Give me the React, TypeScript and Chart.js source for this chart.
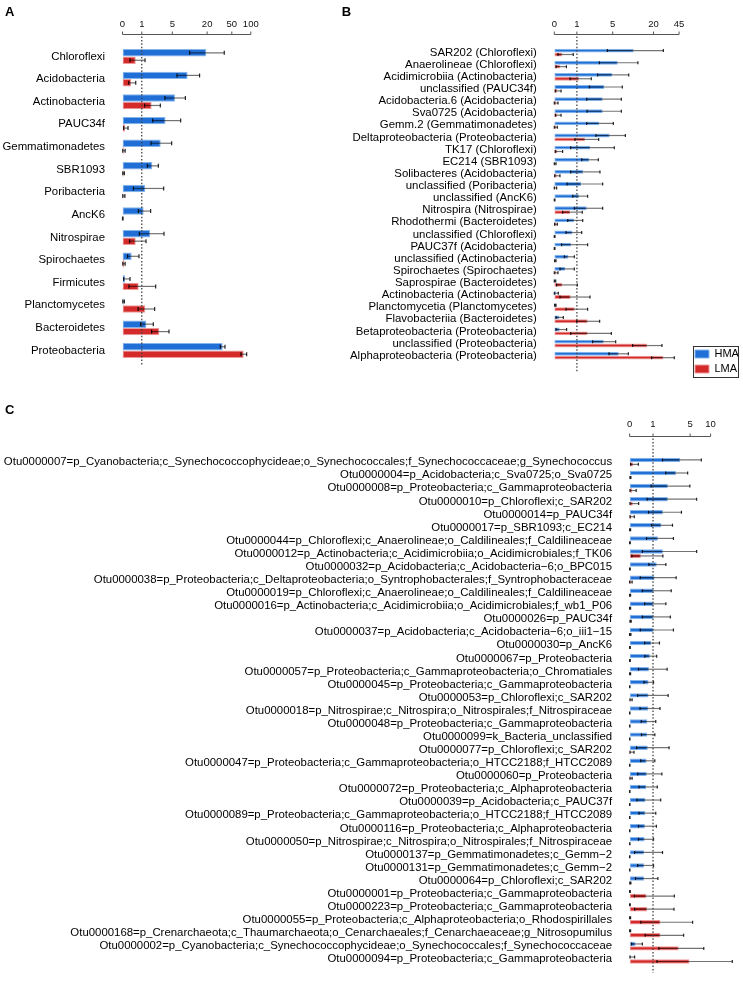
import React, { useEffect, useRef } from 'react';
import { Chart, LinearScale, registerables } from 'chart.js';

class Log1pScale extends LinearScale {
  static id = 'log1p';
  getPixelForValue(value: any) {
    const lo = Math.log1p(this.min), hi = Math.log1p(this.max);
    return this.getPixelForDecimal((Math.log1p(value) - lo) / (hi - lo));
  }
  getValueForPixel(pixel: number) {
    const lo = Math.log1p(this.min), hi = Math.log1p(this.max);
    return Math.expm1(lo + this.getDecimalForPixel(pixel) * (hi - lo));
  }
}
Chart.register(...registerables, Log1pScale as any);

const FONT = "'Liberation Sans', Arial, Helvetica, sans-serif";

// ---------- Panel A (phylum) ----------
const catsA = ['Chloroflexi', 'Acidobacteria', 'Actinobacteria', 'PAUC34f', 'Gemmatimonadetes', 'SBR1093', 'Poribacteria', 'AncK6', 'Nitrospirae', 'Spirochaetes', 'Firmicutes', 'Planctomycetes', 'Bacteroidetes', 'Proteobacteria'];
const ticksA = [0, 1, 5, 20, 50, 100];
const hmaA = [19.4, 9.4, 5.6, 3.7, 2.95, 1.92, 1.27, 1.14, 1.69, 0.39, 0.094, 0.04, 1.36, 35.7];
const hmaALow = [10.2, 6.1, 3.6, 1.96, 1.79, 1.44, 0.48, 0.77, 0.83, 0.2, 0.043, 0.01, 0.92, 32.8];
const hmaAHigh = [37.9, 15.0, 8.6, 7.1, 4.86, 2.63, 3.4, 1.75, 3.45, 0.81, 0.31, 0.07, 2.03, 38.9];
const lmaA = [0.61, 0.37, 1.85, 0.094, 0.043, 0.04, 0.03, 0.01, 0.61, 0.068, 0.79, 1.27, 2.76, 77.2];
const lmaALow = [0.31, 0.25, 1.22, 0.043, 0.01, 0.01, 0.01, 0, 0.29, 0.01, 0.26, 0.75, 1.85, 70];
const lmaAHigh = [1.25, 0.61, 2.9, 0.22, 0.1, 0.07, 0.09, 0.02, 1.33, 0.1, 2.3, 2.18, 4.33, 86];

// ---------- Panel B (class) ----------
const catsB = ['SAR202 (Chloroflexi)', 'Anaerolineae (Chloroflexi)', 'Acidimicrobiia (Actinobacteria)', 'unclassified (PAUC34f)', 'Acidobacteria.6 (Acidobacteria)', 'Sva0725 (Acidobacteria)', 'Gemm.2 (Gemmatimonadetes)', 'Deltaproteobacteria (Proteobacteria)', 'TK17 (Chloroflexi)', 'EC214 (SBR1093)', 'Solibacteres (Acidobacteria)', 'unclassified (Poribacteria)', 'unclassified (AncK6)', 'Nitrospira (Nitrospirae)', 'Rhodothermi (Bacteroidetes)', 'unclassified (Chloroflexi)', 'PAUC37f (Acidobacteria)', 'unclassified (Actinobacteria)', 'Spirochaetes (Spirochaetes)', 'Saprospirae (Bacteroidetes)', 'Actinobacteria (Actinobacteria)', 'Planctomycetia (Planctomycetes)', 'Flavobacteriia (Bacteroidetes)', 'Betaproteobacteria (Proteobacteria)', 'unclassified (Proteobacteria)', 'Alphaproteobacteria (Proteobacteria)'];
const ticksB = [0, 1, 5, 20, 45];
const hmaB = [10.4, 6.0, 4.93, 3.64, 3.41, 3.41, 2.94, 4.46, 1.99, 1.90, 1.41, 1.27, 1.13, 1.70, 0.83, 0.74, 0.67, 0.54, 0.40, 0.032, 0.054, 0.054, 0.167, 0.179, 3.55, 6.21];
const hmaBLow = [4.09, 2.98, 2.78, 1.93, 1.70, 1.73, 1.70, 2.59, 0.65, 1.32, 0.65, 0.48, 0.76, 0.85, 0.51, 0.43, 0.25, 0.36, 0.19, 0, 0, 0.01, 0.054, 0.054, 2.24, 4.35];
const hmaBHigh = [27.4, 12.0, 8.8, 7.06, 6.82, 6.82, 5.12, 7.84, 5.30, 2.86, 3.06, 3.41, 1.78, 3.41, 1.39, 1.32, 1.78, 0.85, 0.85, 0.045, 0.13, 0.054, 0.32, 0.46, 5.57, 8.69];
const lmaB = [0.28, 0.19, 1.13, 0.097, 0.054, 0.097, 0.054, 1.56, 0.097, 0.032, 0.075, 0.032, 0.01, 0.62, 0.065, 0.01, 0.01, 0.032, 0.054, 0.28, 0.65, 0.87, 1.78, 1.78, 16.2, 27.35];
const lmaBLow = [0.12, 0.054, 0.62, 0.03, 0, 0.032, 0, 0.887, 0.03, 0, 0.01, 0, 0, 0.29, 0.01, 0, 0, 0.01, 0, 0.075, 0.19, 0.43, 0.986, 0.652, 10.07, 18.8];
const lmaBHigh = [0.79, 0.45, 2.11, 0.23, 0.12, 0.23, 0.097, 2.9, 0.29, 0.054, 0.19, 0.075, 0.02, 1.36, 0.097, 0.02, 0.02, 0.054, 0.12, 1.03, 1.99, 1.78, 3.02, 4.75, 26.2, 38.7];

// ---------- Panel C (OTU) ----------
const catsC = [
  'Otu0000007=p_Cyanobacteria;c_Synechococcophycideae;o_Synechococcales;f_Synechococcaceae;g_Synechococcus',
  'Otu0000004=p_Acidobacteria;c_Sva0725;o_Sva0725',
  'Otu0000008=p_Proteobacteria;c_Gammaproteobacteria',
  'Otu0000010=p_Chloroflexi;c_SAR202',
  'Otu0000014=p_PAUC34f',
  'Otu0000017=p_SBR1093;c_EC214',
  'Otu0000044=p_Chloroflexi;c_Anaerolineae;o_Caldilineales;f_Caldilineaceae',
  'Otu0000012=p_Actinobacteria;c_Acidimicrobiia;o_Acidimicrobiales;f_TK06',
  'Otu0000032=p_Acidobacteria;c_Acidobacteria\u22126;o_BPC015',
  'Otu0000038=p_Proteobacteria;c_Deltaproteobacteria;o_Syntrophobacterales;f_Syntrophobacteraceae',
  'Otu0000019=p_Chloroflexi;c_Anaerolineae;o_Caldilineales;f_Caldilineaceae',
  'Otu0000016=p_Actinobacteria;c_Acidimicrobiia;o_Acidimicrobiales;f_wb1_P06',
  'Otu0000026=p_PAUC34f',
  'Otu0000037=p_Acidobacteria;c_Acidobacteria\u22126;o_iii1\u221215',
  'Otu0000030=p_AncK6',
  'Otu0000067=p_Proteobacteria',
  'Otu0000057=p_Proteobacteria;c_Gammaproteobacteria;o_Chromatiales',
  'Otu0000045=p_Proteobacteria;c_Gammaproteobacteria',
  'Otu0000053=p_Chloroflexi;c_SAR202',
  'Otu0000018=p_Nitrospirae;c_Nitrospira;o_Nitrospirales;f_Nitrospiraceae',
  'Otu0000048=p_Proteobacteria;c_Gammaproteobacteria',
  'Otu0000099=k_Bacteria_unclassified',
  'Otu0000077=p_Chloroflexi;c_SAR202',
  'Otu0000047=p_Proteobacteria;c_Gammaproteobacteria;o_HTCC2188;f_HTCC2089',
  'Otu0000060=p_Proteobacteria',
  'Otu0000072=p_Proteobacteria;c_Alphaproteobacteria',
  'Otu0000039=p_Acidobacteria;c_PAUC37f',
  'Otu0000089=p_Proteobacteria;c_Gammaproteobacteria;o_HTCC2188;f_HTCC2089',
  'Otu0000116=p_Proteobacteria;c_Alphaproteobacteria',
  'Otu0000050=p_Nitrospirae;c_Nitrospira;o_Nitrospirales;f_Nitrospiraceae',
  'Otu0000137=p_Gemmatimonadetes;c_Gemm\u22122',
  'Otu0000131=p_Gemmatimonadetes;c_Gemm\u22122',
  'Otu0000064=p_Chloroflexi;c_SAR202',
  'Otu0000001=p_Proteobacteria;c_Gammaproteobacteria',
  'Otu0000223=p_Proteobacteria;c_Gammaproteobacteria',
  'Otu0000055=p_Proteobacteria;c_Alphaproteobacteria;o_Rhodospirillales',
  'Otu0000168=p_Crenarchaeota;c_Thaumarchaeota;o_Cenarchaeales;f_Cenarchaeaceae;g_Nitrosopumilus',
  'Otu0000002=p_Cyanobacteria;c_Synechococcophycideae;o_Synechococcales;f_Synechococcaceae',
  'Otu0000094=p_Proteobacteria;c_Gammaproteobacteria',
];
const ticksC = [0, 1, 5, 10];
const hmaC = [3.48, 2.94, 2.10, 2.10, 1.68, 1.56, 1.31, 1.68, 1.23, 1.09, 1.03, 1.03, 1.03, 1.03, 0.89, 0.82, 0.77, 0.75, 0.75, 0.74, 0.69, 0.68, 0.71, 0.65, 0.66, 0.63, 0.60, 0.59, 0.57, 0.56, 0.53, 0.53, 0.53, 0.011, 0.011, 0.02, 0.02, 0.19, 0.03];
const hmaCLow = [1.65, 1.91, 0.89, 0.68, 0.75, 0.92, 0.65, 0.46, 0.77, 0.37, 0.46, 0.56, 0.46, 0.37, 0.56, 0.57, 0.30, 0.53, 0.27, 0.36, 0.41, 0.42, 0.23, 0.39, 0.27, 0.32, 0.24, 0.32, 0.30, 0.30, 0.16, 0.27, 0.19, 0, 0, 0, 0, 0.06, 0.011];
const hmaCHigh = [7.36, 4.58, 4.95, 6.28, 3.64, 2.56, 2.66, 6.28, 1.93, 2.97, 2.43, 1.93, 2.34, 2.66, 1.42, 1.23, 2.04, 1.03, 2.13, 1.46, 1.17, 1.11, 2.22, 1.11, 1.60, 1.27, 1.51, 1.17, 1.21, 1.03, 1.65, 1.03, 1.31, 0.02, 0.02, 0.03, 0.03, 0.46, 0.16];
const lmaC = [0.108, 0.03, 0.078, 0.098, 0.049, 0.02, 0.011, 0.394, 0.011, 0.039, 0.02, 0.02, 0.03, 0.03, 0.011, 0.011, 0.02, 0.005, 0.03, 0.005, 0.005, 0.005, 0.03, 0.005, 0.03, 0.005, 0.005, 0.005, 0.005, 0.005, 0.005, 0.005, 0.02, 0.645, 0.675, 1.49, 1.49, 3.27, 4.89];
const lmaCLow = [0.03, 0.011, 0.011, 0.011, 0.011, 0, 0, 0.068, 0, 0, 0, 0, 0.011, 0, 0, 0, 0, 0, 0.011, 0, 0, 0, 0.011, 0, 0.011, 0, 0, 0, 0, 0, 0, 0, 0.005, 0.15, 0.16, 0.394, 0.585, 1.375, 1.25];
const lmaCHigh = [0.296, 0.039, 0.215, 0.307, 0.15, 0.03, 0.02, 1.68, 0.02, 0.078, 0.03, 0.03, 0.049, 0.04, 0.02, 0.02, 0.03, 0.011, 0.078, 0.011, 0.011, 0.011, 0.139, 0.011, 0.078, 0.011, 0.011, 0.011, 0.011, 0.011, 0.011, 0.011, 0.039, 2.76, 2.72, 5.46, 3.95, 7.99, 19.9];

const BLUE = '#1f6fd6';
const BLUE_EDGE = '#86b5ec';
const RED = '#d42a2a';
const RED_EDGE = '#ee9a9a';

type Series = { label: string; data: number[]; low: number[]; high: number[] };

const panels: any[] = [
  {
    letter: 'A', left: 0, top: 0, width: 290, height: 385,
    cats: catsA, ticks: ticksA, max: 100, axisMax: 100,
    series: [
      { label: 'HMA', data: hmaA, low: hmaALow, high: hmaAHigh },
      { label: 'LMA', data: lmaA, low: lmaALow, high: lmaAHigh },
    ],
    yWidth: 122.5, xHeight: 45.2, padR: 39.2, padB: 9.4, tickPad: 16.2,
    axisGap: 10.9, dotExtra: 4.5, catPct: 0.66, capH: 4, letterX: 5, letterY: 16, legend: null,
  },
  {
    letter: 'B', left: 290, top: 0, width: 453, height: 385,
    cats: catsB, ticks: ticksB, max: 45, axisMax: 45,
    series: [
      { label: 'HMA', data: hmaB, low: hmaBLow, high: hmaBHigh },
      { label: 'LMA', data: lmaB, low: lmaBLow, high: lmaBHigh },
    ],
    yWidth: 264.3, xHeight: 46.5, padR: 63.9, padB: 9.9, tickPad: 17.4,
    axisGap: 12.2, dotExtra: 10, catPct: 0.64, capH: 3, letterX: 51.7, letterY: 16,
    legend: { x: 401, y: 344.5, frame: [402.7, 346, 44.6, 30.7] },
  },
  {
    letter: 'C', left: 0, top: 395, width: 743, height: 594,
    cats: catsC, ticks: ticksC, max: 20, axisMax: 10,
    series: [
      { label: 'HMA', data: hmaC, low: hmaCLow, high: hmaCHigh },
      { label: 'LMA', data: lmaC, low: lmaCLow, high: lmaCHigh },
    ],
    yWidth: 629.6, xHeight: 60.6, padR: 2.9, padB: 19.8, tickPad: 26.5,
    axisGap: 19.6, dotExtra: 7, catPct: 0.68, capH: 3, letterX: 5, letterY: 19, legend: null,
  },
];

function decorPlugin(spec: any) {
  return {
    id: 'decor' + spec.letter,
    afterLayout(chart: any) {
      if (spec.legend && chart.legend) {
        const lg = chart.legend;
        const w = lg.width, h = lg.height;
        lg.left = spec.legend.x;
        lg.top = spec.legend.y;
        lg.right = lg.left + w;
        lg.bottom = lg.top + h;
      }
    },
    afterDatasetsDraw(chart: any) {
      const ctx = chart.ctx;
      const xs = chart.scales.x;
      const area = chart.chartArea;
      ctx.save();
      // error bars
      spec.series.forEach((s: Series, d: number) => {
        const meta = chart.getDatasetMeta(d);
        meta.data.forEach((el: any, j: number) => {
          const lo = s.low[j], hi = s.high[j];
          if (lo == null || hi == null) return;
          const y = el.y;
          const x1 = xs.getPixelForValue(lo), x2 = xs.getPixelForValue(hi);
          ctx.strokeStyle = 'rgba(0,0,0,0.55)';
          ctx.lineWidth = 1.2;
          ctx.beginPath();
          ctx.moveTo(x1, y);
          ctx.lineTo(x2, y);
          ctx.stroke();
          ctx.strokeStyle = 'rgba(0,0,0,0.85)';
          ctx.beginPath();
          const ch = spec.capH / 2;
          ctx.moveTo(x1, y - ch); ctx.lineTo(x1, y + ch);
          ctx.moveTo(x2, y - ch); ctx.lineTo(x2, y + ch);
          ctx.stroke();
        });
      });
      const axisY = Math.round(area.top - spec.axisGap) + 0.5;
      // dotted reference line at 1
      const xr = xs.getPixelForValue(1);
      ctx.strokeStyle = '#444';
      ctx.lineWidth = 1.3;
      ctx.setLineDash([1.5, 1.9]);
      ctx.beginPath();
      ctx.moveTo(xr, axisY + 2);
      ctx.lineTo(xr, area.bottom + spec.dotExtra);
      ctx.stroke();
      ctx.setLineDash([]);
      // axis line with ticks
      ctx.strokeStyle = '#555';
      ctx.lineWidth = 1;
      ctx.beginPath();
      ctx.moveTo(xs.getPixelForValue(0), axisY);
      ctx.lineTo(xs.getPixelForValue(spec.axisMax), axisY);
      spec.ticks.forEach((t: number) => {
        const px = xs.getPixelForValue(t);
        ctx.moveTo(px, axisY);
        ctx.lineTo(px, axisY - 3);
      });
      ctx.stroke();
      ctx.restore();
    },
    afterDraw(chart: any) {
      const ctx = chart.ctx;
      ctx.save();
      ctx.fillStyle = '#000';
      ctx.font = 'bold 13px ' + FONT;
      ctx.textBaseline = 'alphabetic';
      ctx.textAlign = 'left';
      ctx.fillText(spec.letter, spec.letterX, spec.letterY);
      if (spec.legend) {
        const [fx, fy, fw, fh] = spec.legend.frame;
        ctx.strokeStyle = '#333';
        ctx.lineWidth = 1;
        ctx.strokeRect(Math.round(fx) + 0.5, Math.round(fy) + 0.5, Math.round(fw), Math.round(fh));
      }
      ctx.restore();
    },
  };
}

function Panel({ spec }: { spec: any }) {
  const ref = useRef<HTMLCanvasElement | null>(null);
  useEffect(() => {
    if (!ref.current) return;
    const colors = [[BLUE, BLUE_EDGE], [RED, RED_EDGE]];
    const chart = new Chart(ref.current, {
      type: 'bar',
      data: {
        labels: spec.cats,
        datasets: spec.series.map((s: Series, i: number) => ({
          label: s.label,
          data: s.data,
          backgroundColor: colors[i][0],
          borderColor: colors[i][1],
          borderWidth: 1,
          borderSkipped: false,
          categoryPercentage: spec.catPct,
          barPercentage: 1,
        })),
      },
      options: {
        indexAxis: 'y',
        animation: false,
        responsive: false,
        maintainAspectRatio: false,
        layout: { padding: { left: 0, top: 0, right: spec.padR, bottom: spec.padB } },
        scales: {
          x: {
            type: 'log1p' as any,
            position: 'top',
            min: 0,
            max: spec.max,
            grid: { display: false, drawTicks: false },
            border: { display: false },
            ticks: {
              autoSkip: false,
              maxRotation: 0,
              padding: spec.tickPad,
              color: '#111',
              font: { family: FONT, size: 9.5, lineHeight: 1 },
              callback: (v: any) => String(v),
            },
            afterBuildTicks: (s: any) => { s.ticks = spec.ticks.map((v: number) => ({ value: v })); },
            afterFit: (s: any) => { s.height = spec.xHeight; },
          } as any,
          y: {
            type: 'category',
            position: 'left',
            grid: { display: false, drawTicks: false },
            border: { display: false },
            ticks: {
              autoSkip: false,
              padding: 17.5,
              color: '#000',
              font: { family: FONT, size: 11.4, lineHeight: 1 },
            },
            afterFit: (s: any) => { s.width = spec.yWidth; },
          } as any,
        },
        plugins: {
          legend: spec.legend ? {
            display: true,
            position: 'chartArea' as any,
            align: 'start',
            labels: {
              boxWidth: 14,
              boxHeight: 8,
              padding: 4,
              color: '#000',
              textAlign: 'left',
              font: { family: FONT, size: 11 },
            },
          } : { display: false },
          tooltip: { enabled: false },
        },
      } as any,
      plugins: [decorPlugin(spec)],
    });
    return () => chart.destroy();
  }, [spec]);
  return (
    <canvas
      ref={ref}
      width={spec.width}
      height={spec.height}
      style={{ position: 'absolute', left: spec.left, top: spec.top, width: spec.width, height: spec.height }}
    />
  );
}

export default function App() {
  return (
    <div style={{ position: 'absolute', left: 0, top: 0, width: 743, height: 989, background: '#fff', overflow: 'hidden' }}>
      {panels.map((p) => <Panel key={p.letter} spec={p} />)}
    </div>
  );
}
